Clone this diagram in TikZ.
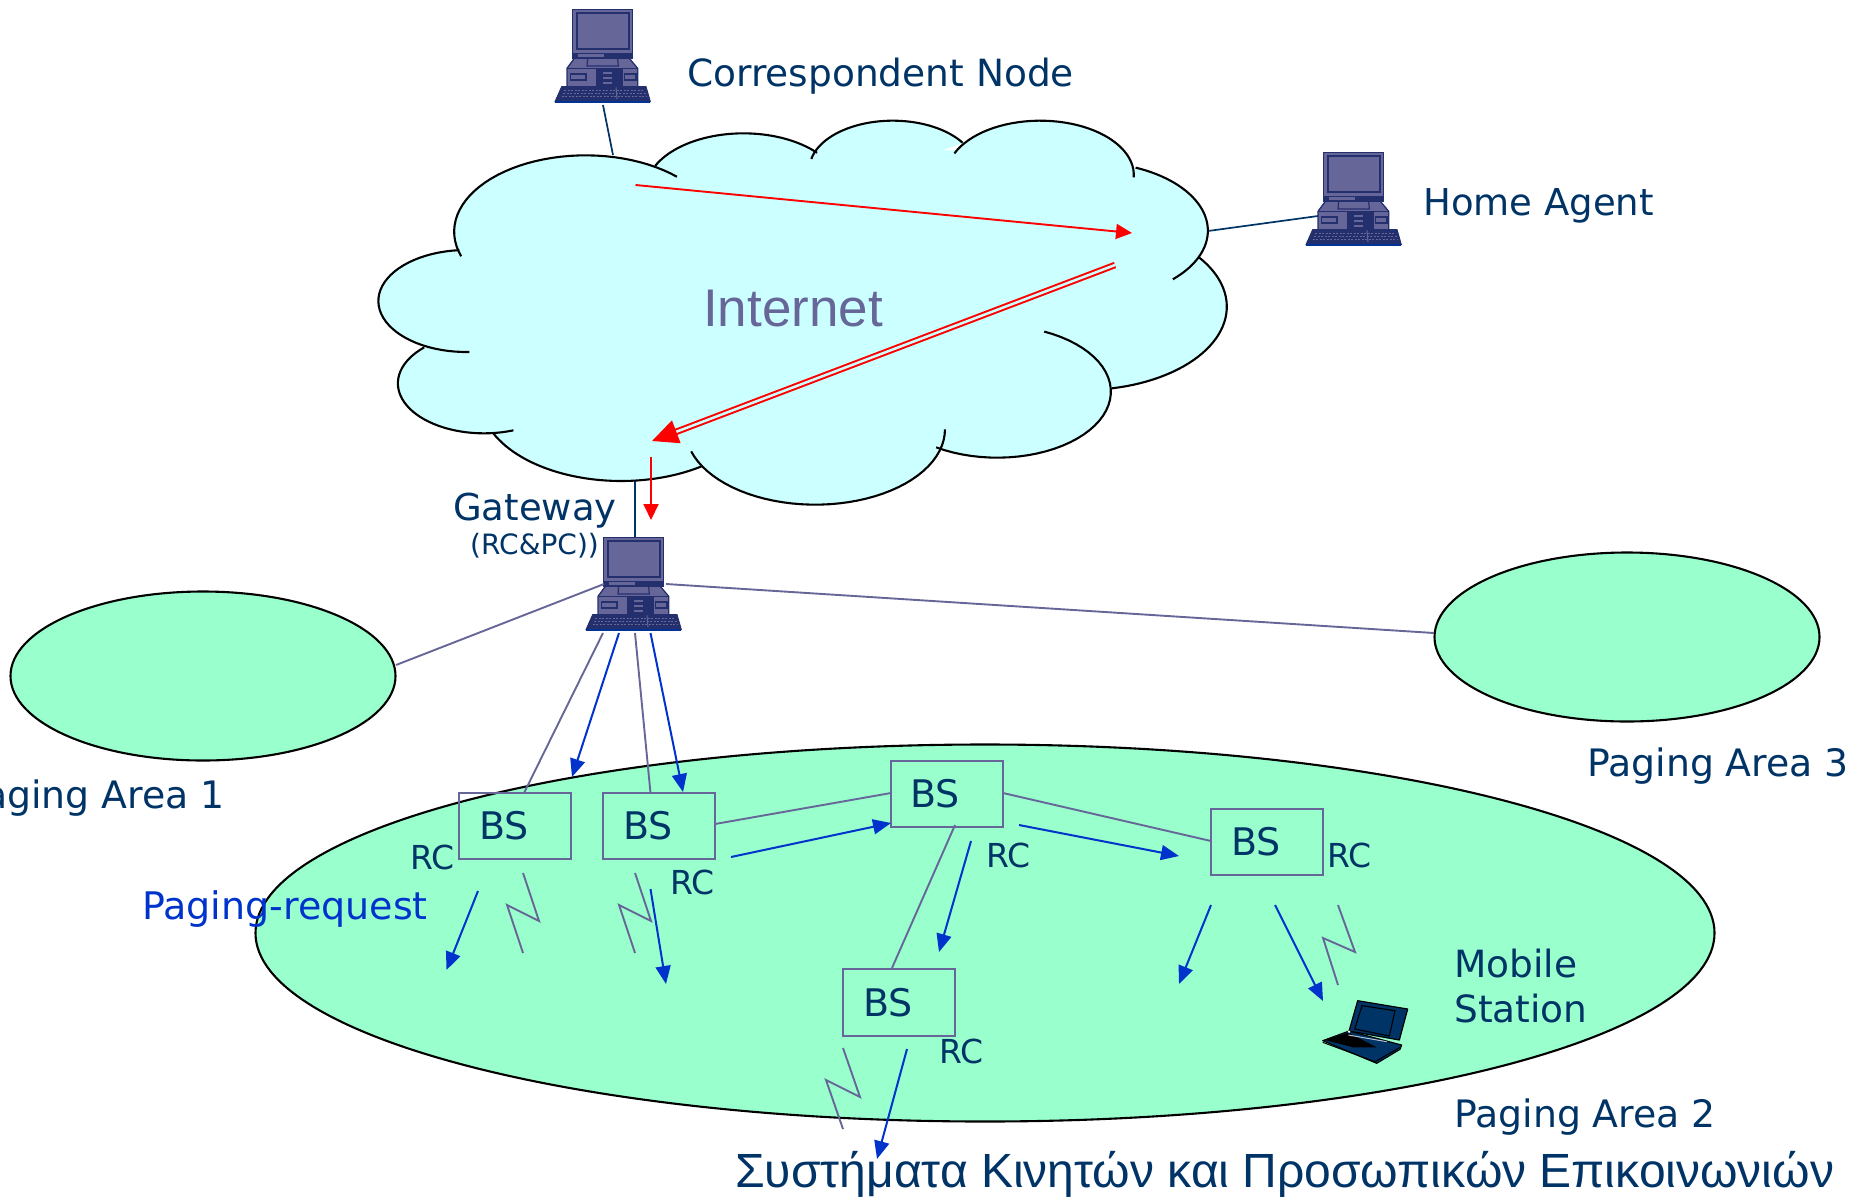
\documentclass[tikz,border=0pt]{standalone}
\usepackage{fontspec}
\setmainfont{DejaVu Sans}
\newfontfamily\arfont{Liberation Sans}
\usetikzlibrary{arrows.meta,shapes.geometric}
\definecolor{cloudc}{HTML}{CCFFFF}
\definecolor{areac}{HTML}{99FFCC}
\definecolor{navy}{HTML}{003366}
\definecolor{purp}{HTML}{666699}
\definecolor{blu}{HTML}{0033CC}
\definecolor{pcd}{HTML}{24306E}
\tikzset{
  areaell/.style={draw=black,fill=areac,line width=2.1pt,ellipse,inner sep=0pt,outer sep=0pt},
  bsbox/.style={draw=purp,line width=2.2pt,anchor=north west,inner sep=0pt,outer sep=0pt},
  purpline/.style={draw=purp,line width=1.9pt},
  navyline/.style={draw=navy,line width=1.7pt},
  bluearrow/.style={draw=blu,line width=2pt,-{Triangle[length=18pt,width=15pt,fill=blu]}},
  redarrow/.style={draw=red,line width=1.9pt,-{Triangle[length=16pt,width=15pt,fill=red]}},
  lab/.style={anchor=base west,inner sep=0pt,text=navy,font=\fontsize{37.5}{40}\selectfont},
  lablo/.style={anchor=base west,inner sep=0pt,text=navy,font=\fontsize{37}{40}\selectfont},
  palab/.style={anchor=base west,inner sep=0pt,text=navy,font=\fontsize{37.8}{40}\selectfont},
  bslab/.style={anchor=base west,inner sep=0pt,text=navy,font=\fontsize{38}{40}\selectfont},
  rclab/.style={anchor=base west,inner sep=0pt,text=navy,font=\fontsize{33}{36}\selectfont},
}
% computer drawn in 3x zoom coordinates
\newcommand{\computerat}[2]{%
\begin{scope}[shift={(#1,#2)},scale=1/3]
 \filldraw[fill=purp,draw=pcd,line width=1.5pt] (95,28)--(275,28)--(275,175)--(95,175)--cycle;
 \draw[pcd,line width=1.8pt] (107,40) rectangle (263,148);
 \fill[pcd] (95,158) rectangle (275,175);
 \fill[purp] (110,162) rectangle (190,172);
 \filldraw[fill=purp,draw=pcd,line width=1.3pt] (100,175)--(78,205)--(78,262)--(290,262)--(290,205)--(265,175)--cycle;
 \filldraw[fill=purp,draw=pcd,line width=1.2pt] (140,175)--(230,175)--(232,198)--(138,198)--cycle;
 \draw[pcd,line width=1.2pt] (78,205)--(290,205);
 \draw[pcd,line width=1.3pt] (88,222) rectangle (135,240);
 \fill[pcd] (165,208) rectangle (245,258);
 \foreach \yy in {215,230,245}{\fill[purp] (185,\yy) rectangle (212,\yy+6);}
 \draw[pcd,line width=1.3pt] (250,222) rectangle (285,240);
 \filldraw[fill=pcd,draw=pcd,line width=1pt] (62,260)--(315,260)--(328,305)--(42,305)--cycle;
 \draw[purp,line width=1pt,dash pattern=on 2pt off 1.5pt] (70,270)--(310,270) (66,280)--(314,280) (62,290)--(318,290);
 \draw[purp,line width=1pt] (225,262)--(228,297);
 \draw[blu!45!navy,line width=1.3pt] (42,306)--(328,306);
\end{scope}}
\def\lobes{393/395/229/198.8/46,668/270/170/154.8/41,928/207/145/168/33,1185/225/163/156.6/-2.5,1272/392/205/67.3/-45.4,1260/620/250/36.6/-78.5,1110/875/198/65.6/-122.5,793/988/226/0/-163,455/898/245/-55.3/-155.6,216/850/150/-70/-226,185/603/153/-88/-265.5}
\begin{document}
\begin{tikzpicture}[x=1pt,y=-1pt]
\useasboundingbox (0,0) rectangle (1854,1197);
\clip (0,0) rectangle (1854,1197);
% named free ends
\coordinate (cnA) at (603,105); \coordinate (cnB) at (613,155);
\coordinate (haA) at (1208,231); \coordinate (haB) at (1318,216);
\coordinate (gwUp) at (635,481); \coordinate (gwDn) at (635,537);
\coordinate (r1a) at (635.5,185); \coordinate (r1b) at (1132,233);
\coordinate (r2a) at (1115,265); \coordinate (r2b) at (652,441);
\coordinate (r3a) at (651,457); \coordinate (r3b) at (651,520);
% lines behind the cloud
\draw[navyline] (cnA)--(cnB);
\draw[navyline] (haA)--(haB);
\draw[navyline] (gwUp)--(gwDn);
% cloud
\begin{scope}[shift={(360,100)},xscale=1/1.742,yscale=1/3]
 \fill[cloudc] (173,460)--(515,198)--(800,165)--(1040,150)--(1348,215)--(1440,500)--(1310,865)--(1005,1040)--(597,1103)--(265,990)--(110,740)--cycle;
\end{scope}
\foreach \cx/\cy/\r/\a/\b in \lobes {
 \filldraw[fill=cloudc,draw=cloudc,line width=.6pt] plot[domain=\a:\b,samples=40,variable=\t] ({360+(\cx+\r*cos(\t))/1.742},{100+(\cy-\r*sin(\t))/3}) -- ({360+\cx/1.742},{100+\cy/3}) -- cycle;
}
\foreach \cx/\cy/\r/\a/\b in \lobes {
 \draw[black,line width=2.1pt] plot[domain=\a:\b,samples=40,variable=\t] ({360+(\cx+\r*cos(\t))/1.742},{100+(\cy-\r*sin(\t))/3});
}
% paging areas
\node[areaell,minimum width=1459pt,minimum height=377pt] (pa2) at (985,933) {};
\node[areaell,minimum width=385pt,minimum height=169pt] (pa1) at (203,676) {};
\node[areaell,minimum width=385pt,minimum height=169pt] (pa3) at (1627,637) {};
% computers
\computerat{541}{0}
\computerat{1292}{143}
\computerat{572}{528}
\coordinate (gwL) at (604,584); \coordinate (gwR) at (666,584);
\coordinate (g1) at (603,633); \coordinate (g2) at (619,633); \coordinate (g3) at (635,633); \coordinate (g4) at (650.5,633);
\coordinate (pa1e) at (396,665); \coordinate (pa3e) at (1434,633);
% base stations
\node[bsbox,minimum width=112pt,minimum height=66pt] (bs1) at (459,793) {};
\node[bsbox,minimum width=112pt,minimum height=66pt] (bs2) at (603,793) {};
\node[bsbox,minimum width=112pt,minimum height=66pt] (bs3) at (891,761) {};
\node[bsbox,minimum width=112pt,minimum height=66pt] (bs4) at (1211,809) {};
\node[bsbox,minimum width=112pt,minimum height=67pt] (bs5) at (843,969) {};
% free ends
\coordinate (a1t) at (572,777); \coordinate (a2t) at (683,792);
\coordinate (p1) at (524,793); \coordinate (p2) at (650.5,793);
\coordinate (p23a) at (715,824); \coordinate (p23b) at (891,793);
\coordinate (b23a) at (731,857); \coordinate (b23b) at (891,823);
\coordinate (p34a) at (1003,793); \coordinate (p34b) at (1211,841);
\coordinate (b34a) at (1019,825); \coordinate (b34b) at (1179,856);
\coordinate (p35a) at (955,825); \coordinate (p35b) at (892,968);
\coordinate (b35a) at (971,841); \coordinate (b35b) at (939,952);
\coordinate (d1a) at (478,891); \coordinate (d1b) at (446.5,970);
\coordinate (d2a) at (650.5,889); \coordinate (d2b) at (666,984);
\coordinate (d4a) at (1211,905); \coordinate (d4b) at (1179,984);
\coordinate (d5a) at (1275,905); \coordinate (d5b) at (1323,1001);
\coordinate (d6a) at (907,1049); \coordinate (d6b) at (877,1159);
\coordinate (z1a) at (523,873); \coordinate (z1b) at (539,921); \coordinate (z1c) at (507,905); \coordinate (z1d) at (523,953);
\coordinate (z2a) at (635,873); \coordinate (z2b) at (651,921); \coordinate (z2c) at (619,905); \coordinate (z2d) at (635,953);
\coordinate (z3a) at (1338,905); \coordinate (z3b) at (1355,952); \coordinate (z3c) at (1323,938); \coordinate (z3d) at (1338,985);
\coordinate (z4a) at (843,1048); \coordinate (z4b) at (860,1097); \coordinate (z4c) at (826,1080); \coordinate (z4d) at (843,1129);
% connectors
\draw[purpline] (pa1e)--(gwL);
\draw[purpline] (gwR)--(pa3e);
\draw[purpline] (g1)--(p1);
\draw[purpline] (g3)--(p2);
\draw[bluearrow] (g2)--(a1t);
\draw[bluearrow] (g4)--(a2t);
\draw[purpline] (p23a)--(p23b);
\draw[bluearrow] (b23a)--(b23b);
\draw[purpline] (p34a)--(p34b);
\draw[bluearrow] (b34a)--(b34b);
\draw[purpline] (p35a)--(p35b);
\draw[bluearrow] (b35a)--(b35b);
\draw[bluearrow] (d1a)--(d1b);
\draw[bluearrow] (d2a)--(d2b);
\draw[bluearrow] (d4a)--(d4b);
\draw[bluearrow] (d5a)--(d5b);
\draw[bluearrow] (d6a)--(d6b);
\draw[purpline] (z1a)--(z1b)--(z1c)--(z1d);
\draw[purpline] (z2a)--(z2b)--(z2c)--(z2d);
\draw[purpline] (z3a)--(z3b)--(z3c)--(z3d);
\draw[purpline] (z4a)--(z4b)--(z4c)--(z4d);
% red arrows
\draw[redarrow] (r1a)--(r1b);
\draw[red,line width=2pt,double=cloudc,double distance=2.5pt,-{Triangle[length=26pt,width=24pt,fill=red]}] (r2a)--(r2b);
\draw[redarrow] (r3a)--(r3b);
% laptop
\begin{scope}[shift={(1280,960)},scale=1/3]
 \filldraw[fill=navy,draw=black,line width=1.1pt,line join=round] (128,242)--(207,213)--(365,255)--(360,268)--(290,310)--cycle;
 \fill[black] (135,240)--(205,218)--(290,262)--(220,262)--cycle;
 \draw[black,line width=1pt] (128,247)--(285,305) (285,305)--(360,262);
 \draw[white!70!navy,line width=1pt] (205,225)--(320,245);
 \filldraw[fill=navy,draw=black,line width=1.2pt,line join=round] (233,122)--(383,147)--(358,240)--(207,213)--cycle;
 \filldraw[fill=navy,draw=black,line width=1.1pt] (246,137)--(345,152)--(328,228)--(224,207)--cycle;
 \fill[white] (207,215) circle (4);
\end{scope}
% labels
\node[lab] (tcn) at (687,86) {Correspondent Node};
\node[lablo] (tha) at (1423,215) {Home Agent};
\node[anchor=base west,inner sep=0pt,text=purp,font=\arfont\fontsize{53}{56}\selectfont] (tin) at (703,326) {Internet};
\node[lablo] (tgw) at (453,520) {Gateway};
\node[anchor=base west,inner sep=0pt,text=navy,font=\fontsize{28}{30}\selectfont] (trp) at (470,554) {(RC\&PC))};
\node[palab,anchor=base east] (tp1) at (225,808) {Paging Area 1};
\node[palab] (tp3) at (1587,776) {Paging Area 3};
\node[palab] (tp2) at (1454,1127) {Paging Area 2};
\node[lab] (tm1) at (1454,977) {Mobile};
\node[lab] (tm2) at (1454,1022) {Station};
\node[palab,text=blu,font=\fontsize{38}{40}\selectfont] (tpr) at (142,919) {Paging-request};
\node[anchor=base west,inner sep=0pt,text=navy,font=\arfont\fontsize{48}{56}\selectfont] (tti) at (735,1187) {Συστήματα Κινητών και Προσωπικών Επικοινωνιών};
\node[bslab] (l1) at (479,839) {BS};
\node[bslab] (l2) at (623,839) {BS};
\node[bslab] (l3) at (910,807) {BS};
\node[bslab] (l4) at (1231,855) {BS};
\node[bslab] (l5) at (863,1016) {BS};
\node[rclab] (r1) at (410,869) {RC};
\node[rclab] (r2) at (670,894) {RC};
\node[rclab] (r3) at (986,867) {RC};
\node[rclab] (r4) at (1327,867) {RC};
\node[rclab] (r5) at (939,1063) {RC};
\end{tikzpicture}
\end{document}
